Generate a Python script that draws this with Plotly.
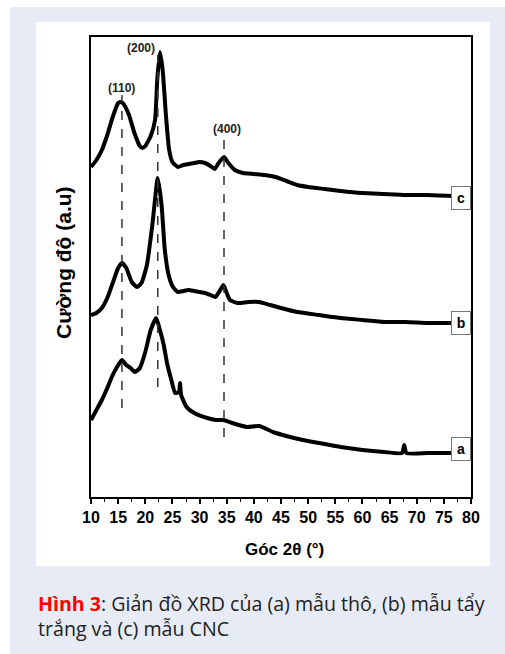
import plotly.graph_objects as go

# ---- data (2θ in degrees, intensity in arbitrary units) ----
theta_a = [10, 11, 12, 13, 14, 14.8, 15.7, 16.5, 17.3, 18.1, 19, 20, 21, 22, 22.7, 23.4, 24, 24.8,
           25.5, 26.2, 26.4, 26.6, 27.6, 29, 31.4, 33, 34.4, 36, 38.7, 41, 43.5, 46, 49, 52, 56, 60,
           64, 67.3, 67.7, 68.1, 72, 76.5]
int_a = [77, 87, 97, 109, 122, 130, 137, 132, 129, 125, 129, 145, 167, 179, 167, 152, 134, 117,
         104, 105, 114, 102, 90, 84, 79, 77, 77, 74, 70, 71, 65, 61, 57, 54, 50, 47,
         45, 44, 52, 44, 44, 44]

theta_b = [10, 11, 12, 13, 14, 15, 15.7, 16.5, 17.5, 18.5, 19.3, 20.3, 21.3, 22.3, 23, 23.6, 24.3,
           25.1, 26, 27, 28, 29, 30, 31, 32, 32.9, 33.7, 34.4, 35, 35.6, 37, 39, 41, 43, 45, 48,
           52, 56, 60, 64, 68, 72, 76.5]
int_b = [182, 184, 189, 199, 214, 229, 234, 229, 215, 210, 214, 232, 272, 319, 292, 247, 222,
         210, 205, 206, 207, 206, 205, 204, 202, 200, 206, 212, 204, 197, 194, 195, 195, 192, 189, 185,
         182, 179, 177, 175, 175, 174, 174]

theta_c = [10, 11, 12, 13, 14, 15, 15.5, 16, 17, 18, 19, 19.5, 20, 21, 21.8, 22.2, 22.7, 23.2, 23.8,
           24.4, 25, 26, 27, 28, 29, 30, 31, 32, 32.8, 33.5, 34.5, 35.3, 36.5, 38, 40, 42, 44, 46,
           48, 50, 53, 56, 60, 64, 68, 72, 76.5]
int_c = [330, 337, 347, 362, 380, 394, 395, 393, 382, 364, 351, 349, 351, 361, 377, 417, 445, 427, 382,
         347, 335, 330, 332, 333, 334, 335, 334, 331, 328, 334, 340, 334, 327, 324, 323, 322, 320, 316,
         312, 310, 308, 306, 304, 303, 302, 302, 301]

series_names = ["a", "b", "c"]
label_levels = [48, 174, 299]

peak_labels = ["(110)", "(200)", "(400)"]
peak_pos = [15.7, 22.3, 34.5]
dash_top = [402, 442, 357]
dash_bottom = [89, 110, 60]
peak_label_x = [15.7, 19.2, 35.05]
peak_label_y = [409, 449, 368]

tick_vals = list(range(10, 81, 5))

# ---- figure ----
W, H = 505, 654
L, R, T, B = 91, 471, 37, 497
pw, ph = R - L, B - T


def px(xp):
    return (xp - L) / pw


def py(yp):
    return (B - yp) / ph


fig = go.Figure()
for th, it, nm in [(theta_a, int_a, "a"), (theta_b, int_b, "b"), (theta_c, int_c, "c")]:
    fig.add_trace(go.Scatter(x=th, y=it, mode="lines", name=nm,
                             line=dict(color="black", width=4, shape="spline", smoothing=0.5),
                             showlegend=False))

shapes = [
    dict(type="rect", xref="paper", yref="paper", x0=px(10), x1=px(505), y0=py(7), y1=py(654),
         fillcolor="#e7ebf6", line=dict(width=0), layer="below"),
    dict(type="rect", xref="paper", yref="paper", x0=px(36), x1=px(490), y0=py(22), y1=py(566),
         fillcolor="white", line=dict(width=0), layer="below"),
]
for xp, t0, b0 in zip(peak_pos, dash_top, dash_bottom):
    shapes.append(dict(type="line", xref="x", yref="y", x0=xp, x1=xp, y0=b0, y1=t0,
                       line=dict(color="#333333", width=1.5, dash="dash")))

annotations = []
for lab, lx, ly in zip(peak_labels, peak_label_x, peak_label_y):
    annotations.append(dict(x=lx, y=ly, xref="x", yref="y", text="<b>" + lab + "</b>",
                            xanchor="center", yanchor="middle",
                            showarrow=False, font=dict(family="Arial, Liberation Sans", size=12, color="#222222")))
for nm, lv in zip(series_names, label_levels):
    annotations.append(dict(x=1, y=lv, xref="paper", yref="y", xanchor="right", yanchor="middle",
                            text="<b>" + nm + "</b>", showarrow=False,
                            font=dict(family="Arial, Liberation Sans", size=14, color="black"),
                            bgcolor="white", bordercolor="#777777", borderwidth=1, borderpad=2,
                            width=14, height=18))
annotations.append(dict(x=px(284), y=py(549), xref="paper", yref="paper", text="<b>Góc 2θ (°)</b>",
                        xanchor="center", yanchor="middle",
                        showarrow=False, font=dict(family="Arial, Liberation Sans", size=17, color="black")))
annotations.append(dict(x=px(63), y=py(263), xref="paper", yref="paper", text="<b>Cường độ (a.u)</b>",
                        xanchor="center", yanchor="middle",
                        textangle=-90, showarrow=False,
                        font=dict(family="Arial, Liberation Sans", size=21, color="black")))
annotations.append(dict(x=px(36), y=py(616), xref="paper", yref="paper", xanchor="left", yanchor="middle",
                        align="left", showarrow=False,
                        text="<b><span style='color:#ff0000'>Hình 3</span></b>: Giản đồ XRD của (a) mẫu thô, (b) mẫu tẩy<br>trắng và (c) mẫu CNC",
                        font=dict(family="Open Sans, Noto Sans", size=19.6, color="#222222")))

fig.update_layout(
    width=W, height=H,
    margin=dict(l=L, r=W - R, t=T, b=H - B, pad=0),
    paper_bgcolor="white", plot_bgcolor="white",
    shapes=shapes, annotations=annotations,
    xaxis=dict(range=[10, 80], tickvals=tick_vals, ticks="outside", ticklen=5, tickwidth=1.5,
               tickcolor="black", showline=True, linewidth=2, linecolor="black", mirror=True,
               showgrid=False, zeroline=False,
               tickfont=dict(family="Arial, Liberation Sans", size=16, color="black", weight="bold"),
               minor=dict(dtick=2.5, tick0=10, ticks="outside", ticklen=3, tickcolor="black", tickwidth=1.2)),
    yaxis=dict(range=[0, 460], showticklabels=False, ticks="", showline=True, linewidth=2,
               linecolor="black", mirror=True, showgrid=False, zeroline=False),
)

fig.write_html("out.html", post_script="document.body.style.margin='0';",
               config={"displayModeBar": False})
